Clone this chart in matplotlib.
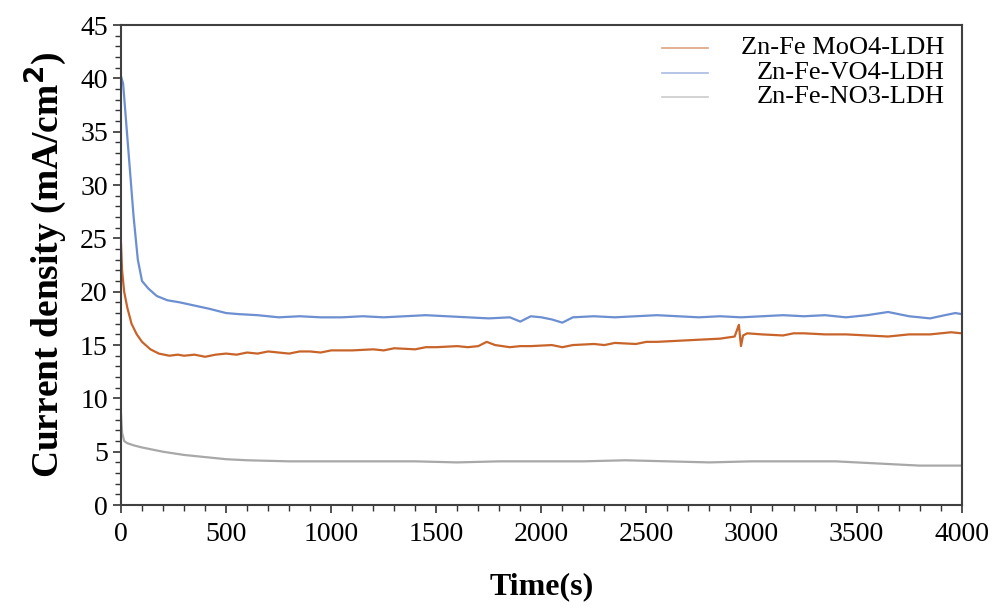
import numpy as np
import matplotlib
matplotlib.use("Agg")
import matplotlib.pyplot as plt
from matplotlib.ticker import MultipleLocator

# series labels
labels = ["Zn-Fe MoO4-LDH", "Zn-Fe-VO4-LDH", "Zn-Fe-NO3-LDH"]
colors = ["#c8642a", "#6c8fd1", "#a8a8a8"]

# Zn-Fe MoO4-LDH (orange)
t_mo = [0, 5, 15, 30, 50, 75, 100, 140, 180, 230, 270, 300, 350, 400, 450, 500, 550, 600,
        650, 700, 750, 800, 850, 900, 950, 1000, 1100, 1200, 1250, 1300, 1400, 1450,
        1500, 1600, 1650, 1700, 1740, 1780, 1850, 1900, 1950, 2050, 2100, 2150, 2250,
        2300, 2350, 2450, 2500, 2550, 2650, 2750, 2850, 2920, 2940, 2950, 2960, 2980,
        3050, 3150, 3200, 3250, 3350, 3450, 3550, 3650, 3750, 3850, 3950, 4000]
j_mo = [24.5, 22.0, 20.0, 18.5, 17.0, 16.0, 15.3, 14.6, 14.2, 14.0, 14.1, 14.0, 14.1,
        13.9, 14.1, 14.2, 14.1, 14.3, 14.2, 14.4, 14.3, 14.2, 14.4, 14.4, 14.3, 14.5,
        14.5, 14.6, 14.5, 14.7, 14.6, 14.8, 14.8, 14.9, 14.8, 14.9, 15.3, 15.0, 14.8,
        14.9, 14.9, 15.0, 14.8, 15.0, 15.1, 15.0, 15.2, 15.1, 15.3, 15.3, 15.4, 15.5,
        15.6, 15.8, 16.9, 14.9, 15.9, 16.1, 16.0, 15.9, 16.1, 16.1, 16.0, 16.0, 15.9,
        15.8, 16.0, 16.0, 16.2, 16.1]

# Zn-Fe-VO4-LDH (blue)
t_vo = [0, 10, 20, 40, 60, 80, 100, 130, 170, 220, 280, 350, 420, 500, 560, 650, 750, 850,
        950, 1050, 1150, 1250, 1350, 1450, 1550, 1650, 1750, 1850, 1900, 1950, 2000,
        2050, 2100, 2150, 2250, 2350, 2450, 2550, 2650, 2750, 2850, 2950, 3050, 3150,
        3250, 3350, 3450, 3550, 3650, 3750, 3850, 3920, 3970, 4000]
j_vo = [40.2, 39.5, 37.0, 32.0, 27.0, 23.0, 21.0, 20.3, 19.6, 19.2, 19.0, 18.7, 18.4, 18.0,
        17.9, 17.8, 17.6, 17.7, 17.6, 17.6, 17.7, 17.6, 17.7, 17.8, 17.7, 17.6, 17.5,
        17.6, 17.2, 17.7, 17.6, 17.4, 17.1, 17.6, 17.7, 17.6, 17.7, 17.8, 17.7, 17.6,
        17.7, 17.6, 17.7, 17.8, 17.7, 17.8, 17.6, 17.8, 18.1, 17.7, 17.5, 17.8, 18.0, 17.9]

# Zn-Fe-NO3-LDH (gray)
t_no = [0, 5, 15, 30, 60, 100, 200, 300, 400, 500, 600, 800, 1000, 1200, 1400, 1600, 1800,
        2000, 2200, 2400, 2600, 2800, 3000, 3200, 3400, 3500, 3600, 3700, 3800, 3900, 4000]
j_no = [8.5, 6.8, 6.0, 5.8, 5.6, 5.4, 5.0, 4.7, 4.5, 4.3, 4.2, 4.1, 4.1, 4.1, 4.1, 4.0,
        4.1, 4.1, 4.1, 4.2, 4.1, 4.0, 4.1, 4.1, 4.1, 4.0, 3.9, 3.8, 3.7, 3.7, 3.7]

xticks = np.arange(0, 4001, 500)
yticks = np.arange(0, 46, 5)


def main():
    plt.rcParams['font.family'] = ['Liberation Serif', 'DejaVu Serif']

    fig = plt.figure(figsize=(9.96, 6.1), dpi=100)
    ax = fig.add_axes([0.1215, 0.172, 0.844, 0.787])

    series = [(t_mo, j_mo), (t_vo, j_vo), (t_no, j_no)]
    for (t, j), c in zip(series, colors):
        ax.plot(t, j, color=c, lw=1.6)

    ax.set_xlim(0, 4000)
    ax.set_ylim(0, 45)
    ax.set_xticks(xticks)
    ax.set_yticks(yticks)
    ax.xaxis.set_minor_locator(MultipleLocator(100))
    ax.yaxis.set_minor_locator(MultipleLocator(1))
    ax.tick_params(which='major', length=6, width=1.2, labelsize=20, color='#333333')
    ax.tick_params(which='minor', length=4, width=1.0, color='#333333')
    ax.tick_params(axis='x', pad=6)
    for s in ax.spines.values():
        s.set_color('#404040')
        s.set_linewidth(1.5)

    ax.set_xlabel('Time(s)', fontsize=23, fontweight='bold', labelpad=18)
    ax.set_ylabel('Current density (mA/cm$^\\mathbf{2}$)', fontsize=27,
                  fontweight='bold', labelpad=8)

    # legend: handles left, texts right-aligned
    for i, (lab, c) in enumerate(zip(labels, colors)):
        yy = 0.952 - i * 0.051
        ax.plot([0.644, 0.698], [yy, yy], color=c, lw=1.2, alpha=0.6,
                transform=ax.transAxes)
        ax.text(0.98, yy, lab, ha='right', va='center', fontsize=19,
                transform=ax.transAxes)

    fig.savefig('out.png', dpi=100)


if __name__ == "__main__":
    main()
